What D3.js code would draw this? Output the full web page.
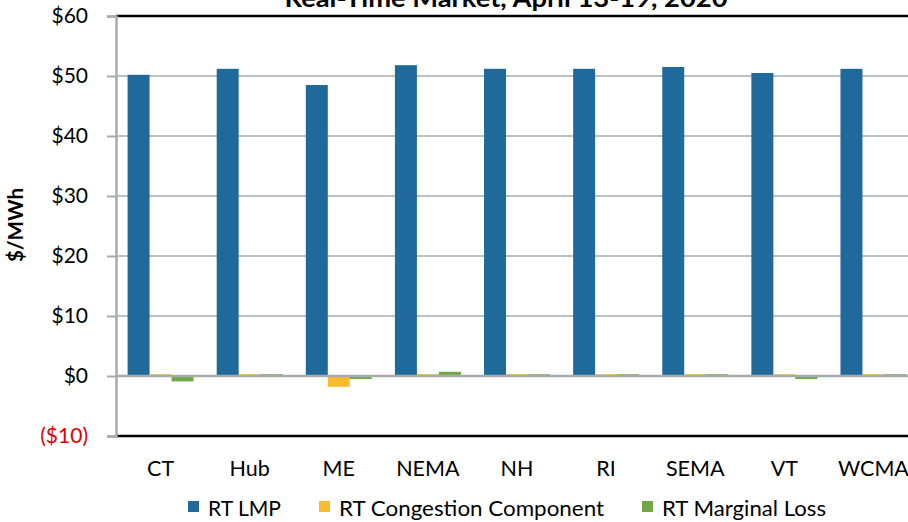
<!DOCTYPE html>
<html><head><meta charset="utf-8">
<script src="https://cdn.jsdelivr.net/npm/d3@7"></script>
<style>body{margin:0;background:#fff}svg{display:block;font-family:Lato,"Open Sans",sans-serif}</style>
</head><body><svg id="c" width="908" height="522"></svg>
<script>
const categories = ["CT","Hub","ME","NEMA","NH","RI","SEMA","VT","WCMA"];
const seriesNames = ["RT LMP","RT Congestion Component","RT Marginal Loss"];
const rtLMP = [50.2,51.2,48.5,51.8,51.2,51.2,51.5,50.5,51.2];
const rtCongestion = [0.3,0.3,-1.8,0.3,0.3,0.3,0.3,0.3,0.3];
const rtLoss = [-0.9,0.3,-0.5,0.7,0.3,0.3,0.3,-0.5,0.3];
const yTicks = [-10,0,10,20,30,40,50,60];
const colors = ["#1F6A9A","#FBBA2E","#70A845"];
const title = "Real-Time Market, April 13-19, 2020";

const svg = d3.select("#c");
const L=116, R=918, W=908, T=16, B=436;
const x = d3.scaleBand().domain(categories).range([L,R]).paddingInner(0.26).paddingOuter(0.13);
const y = d3.scaleLinear().domain([-10,60]).range([B,T]);
const xs = d3.scaleBand().domain(seriesNames).range([0,x.bandwidth()]);
const series = [rtLMP, rtCongestion, rtLoss];

// gridlines
svg.append("g").selectAll("line").data(yTicks.filter(t=>t>0&&t<60)).join("line")
  .attr("x1",L).attr("x2",W).attr("y1",d=>y(d)).attr("y2",d=>y(d))
  .attr("stroke","#A5ACAF").attr("stroke-width",1.5);

// bars
series.forEach((vals,si)=>{
  svg.append("g").selectAll("rect").data(vals).join("rect")
    .attr("x",(d,i)=>x(categories[i])+xs(seriesNames[si]))
    .attr("width",xs.bandwidth())
    .attr("y",d=>y(Math.max(0,d)))
    .attr("height",d=>Math.abs(y(d)-y(0)))
    .attr("fill",colors[si]);
});
// zero line over bars
svg.append("line").attr("x1",L).attr("x2",W).attr("y1",y(0)).attr("y2",y(0)).attr("stroke","#A5ACAF").attr("stroke-width",2.5);
// top & bottom black borders
[60,-10].forEach(v=>svg.append("line").attr("x1",L).attr("x2",W).attr("y1",y(v)).attr("y2",y(v)).attr("stroke","#000").attr("stroke-width",2.5));

// y axis
const yAxis = d3.axisLeft(y).tickValues(yTicks).tickSize(9).tickPadding(19)
  .tickFormat(d=>d<0?`($${Math.abs(d)})`:`$${d}`);
const ga = svg.append("g").attr("transform",`translate(${L},0)`).call(yAxis);
ga.select(".domain").attr("stroke","#A5ACAF").attr("stroke-width",2.5);
ga.selectAll(".tick line").attr("stroke","#A5ACAF").attr("stroke-width",2);
ga.selectAll("text").attr("font-size",21).attr("fill",d=>d<0?"#E00000":"#000").attr("font-family","Lato,sans-serif");

// x labels
svg.append("g").selectAll("text").data(categories).join("text")
  .attr("x",d=>x(d)+x.bandwidth()/2).attr("y",476).attr("text-anchor","middle")
  .attr("font-size",21.5).text(d=>d);

// y title
svg.append("text").attr("transform","translate(23,225) rotate(-90)").attr("text-anchor","middle")
  .attr("font-size",21).attr("font-weight","bold").attr("textLength",74).attr("lengthAdjust","spacingAndGlyphs").text("$/MWh");

// title (cut off at top)
svg.append("text").attr("x",506).attr("y",7).attr("text-anchor","middle")
  .attr("font-size",24).attr("font-weight","bold")
  .attr("textLength",443).attr("lengthAdjust","spacingAndGlyphs").text(title);

// legend
const legTextX = [208,339,662];
const legTextW = [73,265,164];
const lg = svg.append("g").selectAll("g").data(seriesNames).join("g")
  .attr("transform",(d,i)=>`translate(${legTextX[i]},0)`);
lg.append("rect").attr("x",-20).attr("y",501).attr("width",11).attr("height",11).attr("fill",(d,i)=>colors[i]);
lg.append("text").attr("x",0).attr("y",516).attr("font-size",21.5)
  .attr("textLength",(d,i)=>legTextW[i]).attr("lengthAdjust","spacingAndGlyphs").text(d=>d);
</script></body></html>
